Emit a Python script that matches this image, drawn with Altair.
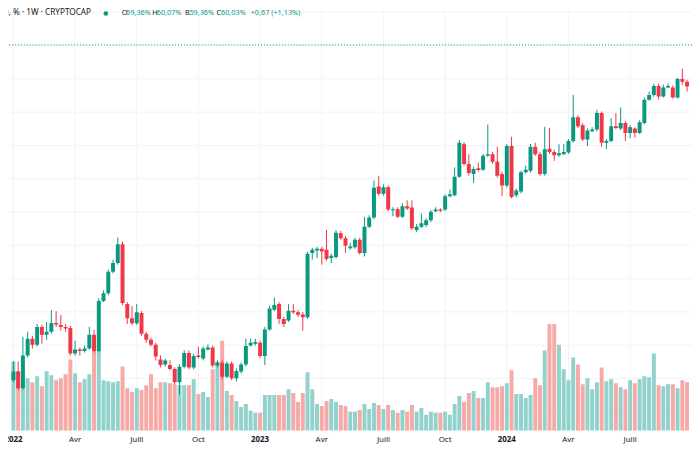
import altair as alt
import pandas as pd

# ---------------- data (weekly candles, BTC dominance %, week 0 = 3 Jan 2022) ----------------
week = list(range(143))

open_ = [39.90, 40.43, 39.42, 41.38, 42.39, 42.03, 43.10, 42.63, 42.81, 43.34,
         43.22, 43.10, 43.04, 41.50, 41.74, 41.65, 41.80, 42.63, 41.66, 44.66,
         45.12, 46.41, 46.94, 48.07, 44.47, 43.62, 43.32, 43.93, 42.69, 42.33,
         42.03, 41.15, 40.85, 40.81, 40.57, 39.78, 40.71, 41.53, 40.67, 41.38,
         41.20, 41.74, 41.86, 40.79, 40.95, 40.11, 40.91, 40.02, 40.43, 40.85,
         41.99, 42.09, 42.15, 41.36, 42.94, 44.13, 44.47, 43.58, 43.48, 44.07,
         43.98, 43.85, 43.68, 47.54, 47.69, 47.79, 47.73, 47.24, 47.30, 48.72,
         48.43, 47.83, 47.89, 48.33, 47.54, 49.12, 49.67, 51.53, 51.10, 51.49,
         50.11, 50.17, 49.71, 50.34, 50.27, 48.92, 49.12, 49.22, 49.51, 50.05,
         50.15, 50.15, 50.94, 51.00, 52.12, 54.07, 52.88, 52.28, 52.62, 52.54,
         53.37, 53.47, 53.01, 52.28, 51.59, 53.96, 51.00, 51.23, 52.38, 52.48,
         53.92, 53.47, 52.28, 53.80, 53.61, 53.41, 53.47, 53.57, 54.26, 55.69,
         55.21, 54.36, 54.85, 54.96, 55.94, 54.16, 54.26, 55.15, 55.01, 55.35,
         54.75, 55.01, 54.75, 55.35, 56.74, 57.03, 57.57, 56.93, 57.48, 57.48,
         56.87, 57.98, 57.82]

close = [40.43, 39.42, 41.38, 42.39, 42.03, 43.10, 42.63, 42.81, 43.34, 43.25,
         43.10, 43.01, 41.50, 41.74, 41.65, 41.80, 42.63, 41.66, 44.66, 45.12,
         46.41, 46.94, 48.07, 44.53, 43.62, 43.32, 43.98, 42.69, 42.33, 42.03,
         41.32, 40.81, 41.09, 40.57, 39.78, 40.71, 41.53, 40.67, 41.35, 41.30,
         41.80, 41.86, 40.79, 40.95, 40.11, 40.91, 40.02, 40.46, 40.85, 41.96,
         42.15, 42.20, 41.36, 42.94, 44.21, 44.41, 43.58, 43.28, 44.07, 43.98,
         43.83, 43.68, 47.50, 47.73, 47.79, 47.63, 47.18, 47.38, 48.76, 48.43,
         47.97, 47.93, 48.33, 47.54, 49.12, 49.67, 51.45, 51.10, 51.49, 50.15,
         50.17, 49.71, 50.34, 50.21, 49.02, 49.12, 49.32, 49.51, 50.01, 50.15,
         50.07, 50.94, 51.06, 52.12, 54.16, 52.88, 52.34, 52.58, 52.52, 53.37,
         53.47, 53.01, 52.18, 51.59, 53.96, 50.90, 51.29, 52.38, 52.54, 53.92,
         53.47, 52.28, 53.77, 53.61, 53.41, 53.53, 53.61, 54.26, 55.69, 55.15,
         54.36, 54.90, 54.96, 55.94, 54.16, 54.26, 55.15, 55.05, 55.35, 54.75,
         55.09, 54.75, 55.39, 56.74, 57.03, 57.57, 56.93, 57.48, 57.57, 56.87,
         57.98, 57.82, 57.53]

high = [41.03, 41.03, 42.51, 42.81, 42.57, 43.28, 43.22, 43.40, 44.11, 44.05,
        43.82, 43.28, 43.16, 42.27, 41.86, 41.98, 43.10, 42.93, 44.82, 45.30,
        46.55, 47.14, 48.46, 48.21, 44.59, 44.35, 44.47, 44.05, 42.81, 42.45,
        42.15, 41.38, 41.20, 41.10, 40.67, 40.85, 41.70, 41.68, 41.50, 41.90,
        41.92, 42.05, 41.98, 41.09, 41.09, 41.03, 41.03, 40.61, 40.97, 42.39,
        42.39, 42.39, 42.27, 43.10, 44.37, 44.87, 44.59, 43.70, 44.47, 44.47,
        44.11, 43.99, 47.61, 47.85, 47.91, 47.91, 48.92, 47.50, 48.92, 48.86,
        48.56, 48.15, 48.45, 48.45, 49.71, 49.81, 51.89, 52.18, 51.65, 51.59,
        50.29, 50.29, 50.52, 50.70, 50.70, 49.28, 49.91, 49.63, 50.11, 50.29,
        50.23, 51.06, 51.34, 52.68, 54.32, 54.20, 53.47, 52.72, 52.97, 53.49,
        55.25, 53.61, 53.92, 52.42, 54.08, 54.52, 51.41, 52.48, 52.78, 54.08,
        54.16, 53.61, 55.11, 55.05, 53.73, 54.07, 54.07, 54.38, 57.03, 55.80,
        55.33, 55.03, 55.09, 56.14, 56.04, 54.38, 55.64, 55.94, 56.28, 55.45,
        55.21, 55.09, 55.51, 56.87, 57.23, 57.70, 57.70, 57.64, 57.72, 57.59,
        58.06, 58.61, 57.94]

low = [39.78, 39.31, 39.36, 41.26, 41.80, 41.92, 42.09, 42.33, 42.69, 43.10,
       42.87, 42.81, 41.38, 41.38, 41.38, 41.56, 41.74, 41.56, 41.56, 44.59,
       45.00, 46.31, 46.84, 44.41, 43.28, 43.22, 43.22, 42.57, 42.15, 41.92,
       41.09, 40.67, 40.73, 40.49, 39.66, 39.03, 40.61, 40.55, 40.55, 41.20,
       41.09, 41.68, 40.67, 40.67, 39.96, 40.02, 39.90, 39.82, 40.31, 40.73,
       41.92, 41.98, 41.25, 40.81, 42.87, 44.05, 43.28, 43.09, 43.40, 43.87,
       43.70, 42.88, 43.58, 47.14, 47.24, 46.84, 47.08, 46.94, 47.20, 48.33,
       47.54, 47.73, 47.79, 47.44, 47.33, 49.04, 49.57, 50.99, 50.99, 50.05,
       49.75, 49.63, 49.63, 50.11, 48.92, 48.80, 49.04, 49.10, 49.40, 49.99,
       49.99, 50.05, 50.88, 50.94, 52.06, 52.78, 52.18, 51.75, 52.42, 52.48,
       53.31, 52.90, 52.07, 50.96, 51.47, 50.82, 50.88, 51.12, 52.30, 52.36,
       53.37, 52.18, 52.18, 53.49, 53.07, 53.31, 53.43, 53.49, 54.16, 55.03,
       54.26, 53.96, 54.80, 54.85, 53.90, 53.77, 54.20, 54.97, 54.91, 54.26,
       54.44, 54.46, 54.68, 55.27, 56.69, 56.93, 56.74, 56.87, 57.44, 56.81,
       56.81, 57.64, 57.23]

volume = [70, 60, 58, 53, 49, 55, 45, 60, 56, 51,
          53, 57, 72, 58, 49, 52, 57, 87, 82, 51,
          50, 49, 50, 65, 43, 39, 43, 41, 46, 57,
          43, 49, 49, 48, 47, 46, 46, 46, 52, 37,
          39, 34, 62, 70, 91, 40, 36, 30, 24, 27,
          20, 18, 18, 36, 36, 36, 36, 36, 42, 38,
          29, 38, 59, 42, 27, 25, 30, 32, 29, 26,
          25, 19, 19, 21, 27, 22, 28, 26, 22, 26,
          21, 18, 21, 19, 26, 19, 23, 16, 19, 18,
          18, 19, 16, 27, 35, 29, 38, 40, 33, 33,
          49, 44, 44, 45, 48, 61, 37, 37, 33, 36,
          53, 46, 81, 108, 108, 87, 62, 51, 74, 67,
          47, 53, 42, 49, 64, 50, 52, 48, 44, 42,
          51, 48, 52, 55, 54, 78, 46, 45, 47, 47,
          43, 51, 49]

tick_weeks = [0, 13, 26, 39, 52, 65, 78, 91, 104, 117, 130]
tick_labels = ["2022", "Avr", "Juill", "Oct", "2023", "Avr", "Juill", "Oct", "2024", "Avr", "Juill"]
grid_levels = [38, 40, 42, 44, 46, 48, 50, 52, 54, 56, 58, 60, 62]

title_text = "Bitcoin Dominance, % · 1W · CRYPTOCAP"
last_o, last_h, last_l, last_c = 59.36, 60.07, 59.36, 60.03
last_chg, last_chg_pct = 0.67, 1.13

# ---------------- styling ----------------
W, H = 692, 425
PRICE_DOMAIN = [36.873, 62.095]
VOL_DOMAIN = [0, 425]
X_DOMAIN = [-0.1, 142.0]
UP, DOWN = "#089981", "#f23645"
VUP, VDOWN = "#92d2cc", "#f7a9a7"
GRID = "#f0f3fa"
TXT = "#131722"
FONT = "Noto Sans"

df = pd.DataFrame({"w": week, "open": open_, "high": high, "low": low,
                   "close": close, "volume": volume})
ticks = pd.DataFrame({"w": tick_weeks, "label": tick_labels,
                      "year": [l.isdigit() for l in tick_labels]})
levels = pd.DataFrame({"level": grid_levels})
lastdf = pd.DataFrame({"c": [last_c]})

xs = alt.Scale(domain=X_DOMAIN)
ps = alt.Scale(domain=PRICE_DOMAIN)
vs = alt.Scale(domain=VOL_DOMAIN)
is_up = "datum.close >= datum.open"

hgrid = alt.Chart(levels).mark_rule(color=GRID, strokeWidth=1).encode(
    y=alt.Y("level:Q", scale=ps, axis=None))
vgrid = alt.Chart(ticks).mark_rule(color=GRID, strokeWidth=1).encode(
    x=alt.X("w:Q", scale=xs, axis=None))

base = alt.Chart(df)
vol = base.mark_bar(size=4, clip=True).encode(
    x=alt.X("w:Q", scale=xs, axis=None),
    y=alt.Y("volume:Q", scale=vs, axis=None),
    color=alt.condition(is_up, alt.value(VUP), alt.value(VDOWN)))

wick = base.mark_rule(strokeWidth=1, clip=True).encode(
    x=alt.X("w:Q", scale=xs, axis=None),
    y=alt.Y("low:Q", scale=ps, axis=None),
    y2="high:Q",
    color=alt.condition(is_up, alt.value(UP), alt.value(DOWN)))

body = base.mark_bar(size=4, clip=True).encode(
    x=alt.X("w:Q", scale=xs, axis=None),
    y=alt.Y("open:Q", scale=ps, axis=None),
    y2="close:Q",
    color=alt.condition(is_up, alt.value(UP), alt.value(DOWN)))

priceline = alt.Chart(lastdf).mark_rule(color=UP, strokeDash=[1, 2], strokeWidth=1).encode(
    y=alt.Y("c:Q", scale=ps, axis=None))

xlab_base = alt.Chart(ticks).encode(
    x=alt.X("w:Q", scale=xs, axis=None),
    y=alt.value(H + 9),
    text="label:N")
xlab_year = xlab_base.transform_filter("datum.year").mark_text(
    baseline="middle", align="center", font=FONT, fontSize=8, fontWeight="bold", color=TXT)
xlab_month = xlab_base.transform_filter("!datum.year").mark_text(
    baseline="middle", align="center", font=FONT, fontSize=8, color=TXT)


def fmt(v):
    return f"{v:.2f}".replace(".", ",")


hdr_y = 3
HFS = 7.4
header_parts = [
    (title_text, 84, TXT, "right", 8.3),
    ("O", 115, TXT, "left", HFS), (fmt(last_o) + "%", 119.5, UP, "left", HFS),
    ("H", 146, TXT, "left", HFS), (fmt(last_h) + "%", 150.5, UP, "left", HFS),
    ("B", 179, TXT, "left", HFS), (fmt(last_l) + "%", 183.5, UP, "left", HFS),
    ("C", 211, TXT, "left", HFS), (fmt(last_c) + "%", 215.5, UP, "left", HFS),
    (f"+{fmt(last_chg)} (+{fmt(last_chg_pct)}%)", 245.5, UP, "left", HFS),
]
header = []
for txt, px, col, al, fs in header_parts:
    header.append(
        alt.Chart(pd.DataFrame({"t": [txt]})).mark_text(
            align=al, baseline="middle", font=FONT, fontSize=fs, color=col
        ).encode(x=alt.value(px), y=alt.value(hdr_y), text="t:N"))

dot = alt.Chart(pd.DataFrame({"t": ["status"]})).mark_point(
    filled=True, size=22, color=UP, opacity=1).encode(
    x=alt.value(99), y=alt.value(hdr_y))

chart = alt.layer(hgrid, vgrid, vol, priceline, wick, body, xlab_year, xlab_month, dot,
                  *header).resolve_scale(y="independent").properties(
    width=W, height=H,
    padding={"left": 0, "top": 0, "right": 0, "bottom": 17},
    autosize=alt.AutoSizeParams(type="none"),
).configure_view(stroke=None)

chart.save("out.html", embed_options={"renderer": "svg", "actions": False})
